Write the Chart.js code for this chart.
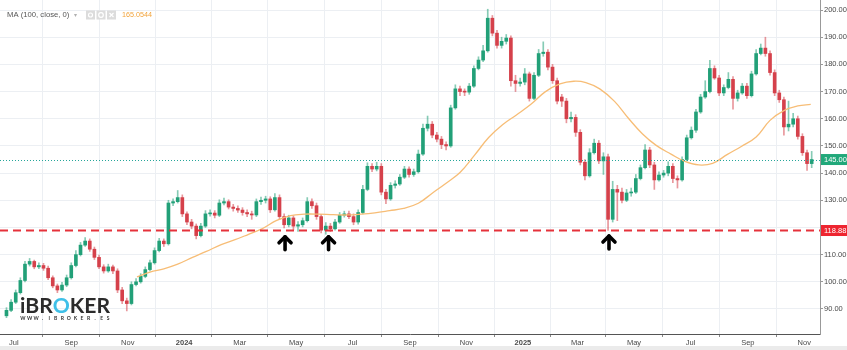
<!DOCTYPE html>
<html><head><meta charset="utf-8">
<script src="https://cdn.jsdelivr.net/npm/chart.js@4"></script>
<style>html,body{margin:0;padding:0;background:#fff}#wrap{width:847px;height:350px;position:relative}</style>
</head><body><div id="wrap"><canvas id="c"></canvas></div>
<script>
// ---------- DATA ----------
const firstBarDate = '2023-06-23';
const barStepDays = 5;
const opens = [
87.5,89.5,92.5,96,100.5,106.5,107.5,105.5,106,105,
101.5,98.5,97,98.8,101.5,106,110,113.5,115,112,
109,105.5,104,105.5,104,97,93,92,99,100,
102,104.5,107,111.5,115,114,129,129.5,131,125,
122,120.5,117,120.5,125,125.3,124.5,129,129.5,127.5,
127,126.4,125.5,125,124.6,129.5,130,130.5,126.5,131,
124,121,123.5,120.5,121,122.5,129.5,128,124,119,
120.5,119.5,122,124.5,125,124,122,125.5,134,142.5,
141.5,142.5,133,130.5,135.5,136,138.5,141.5,139.5,140.5,
147,156.5,158,154,152.5,150.5,150,164,171,170,
169.8,172,178.5,181.6,185,197,191.5,187,188.5,189.7,
174,173,173.5,176.5,167.5,176,184,184.5,179,174,
168,166.5,160,160.5,155,144,139,147.5,151,144.5,
146,123,134,133,130,132.7,133,138,142,148.5,
143,137.5,139.3,140,142.5,138,137.5,145,153,155.8,
162.5,168,170,178.5,175,169.5,171.5,174.5,167.5,169.5,
172,168.5,176.5,184,186,184,177,169.5,167,157,
158,160,153.5,147.5,143.5];
const highs = [
90.5,93.5,97,101.5,107.5,108.6,108,107,106.8,105.8,
102.2,99.2,99.8,102.5,107,111.5,114.5,116.3,115.8,112.8,
109.8,106.3,106.5,106.2,104.8,98,94,100,101.2,103,
105.5,108,112.5,116,115.8,130,130.5,133.6,132,125.8,
123,121.3,121.5,126.2,126.5,126.2,130.2,130.8,130.2,128.5,
128,127.3,126.5,126,130.5,131.2,131.5,131.3,132.5,132,
125,124.5,124.3,122.2,123.5,131,130.5,129,124.8,121.8,
121.5,123,125.5,126,126,125,126.5,135.5,143.8,143.5,
144,143.5,134,136.5,137.2,139.5,142.5,142.3,141.5,148.5,
158,161,159,155,153.5,151.5,165,172.5,172,171,
173,179.5,182.8,187,200.3,198,192.5,190,191,190.5,
176,175,178.5,177.2,177,185.5,188.3,185.5,180,175,
169,167.5,162.5,161.5,156,145,149,152.5,152,147.5,
147,137,135.5,134.5,134,134.5,139.5,143,150.5,149.5,
144,140.5,141,144.2,143.5,139,146,154,157,163.5,
169,174,181.5,179.5,176,172.5,177,175.5,170.5,173,
173,177.5,185.5,187.5,190,185,178,170.5,168,166.5,
162,161,154.5,148.5,148];
const lows = [
86.8,89,92,95.5,100,105.8,104.8,104.8,104.2,100.8,
97.8,96,96.5,98.2,101,105.5,109.5,113,111.2,108.2,
104.8,103.2,103.5,103,96,92,89.3,91.5,98.5,99.5,
101.5,104,106.5,111,113,113.5,128,129,124,121,
119.5,115.8,116.5,120,124.2,123.5,124,128.3,126.8,126,
125.5,124.5,124,123,124,128.5,129,125.5,126,123,
119.8,120.2,119.2,118.5,120.2,122,127,123,118,117.5,
118.5,119,121.5,123.8,123.2,121,121.2,125,133.5,140.5,
140.8,132,128.8,130,134.5,135.5,138,138.5,138.8,140,
146.5,155.5,153,151.5,149,148.5,149.5,163.5,168.5,168.5,
169,171.5,178,181,184.5,190.5,186,186,187.5,172,
170,172,172.5,166.5,167,175.5,183,178,173,165.5,
164.5,158.5,158.8,153.5,143,137.5,138.5,147,143.5,139.5,
118.9,122,122.5,129,129.5,131.5,132.5,137.5,141.5,142,
134,137,138.5,139,136.5,134.5,137,144.5,152.5,155,
162,167.5,169.5,174.5,168.5,168.5,171,163.5,166.5,169,
167.5,168,176,183.5,183,176,168.5,166,154,155.5,
157,152.5,146.5,141,142];
const closes = [
89.5,92.5,96,100.5,106.5,107.5,105.5,106,105,101.5,
98.5,97,98.8,101.5,106,110,113.5,115,112,109,
105.5,104,105.5,104,97,93,92,99,100,102,
104.5,107,111.5,115,114,129,129.5,131,125,122,
120.5,117,120.5,125,125.3,124.5,129,129.5,127.5,127,
126.4,125.5,125,124.6,129.5,130,130.5,126.5,131,124,
121,123.5,120.5,121,122.5,129.5,128,124,119,120.5,
119.5,122,124.5,125,124,122,125.5,134,142.5,141.5,
142.5,133,130.5,135.5,136,138.5,141.5,139.5,140.5,147,
156.5,158,154,152.5,150.5,150,164,171,170,169.8,
172,178.5,181.6,185,197,191.5,187,188.5,189.7,174,
173,173.5,176.5,167.5,176,184,184.5,179,174,166.5,
166.5,160,160.5,155,144,139,147.5,151,144.5,146,
123,134,133,130,132.7,133,138,142,148.5,143,
137.5,139.3,140,142.5,138,137.5,145,153,155.8,162.5,
168,170,178.5,175,169.5,171.5,174.5,167.5,169.5,172,
168.5,176.5,184,186,184,177,169.5,167,157,158,
160,153.5,147.5,143.5,145];

const maDates = ['2023-11-11','2023-11-25','2023-12-10','2023-12-25','2024-01-10','2024-01-25','2024-02-10','2024-02-25',
'2024-03-10','2024-03-25','2024-04-10','2024-04-25','2024-05-10','2024-05-25','2024-06-10','2024-06-25',
'2024-07-10','2024-07-25','2024-08-10','2024-08-25','2024-09-10','2024-09-25','2024-10-10','2024-10-25',
'2024-11-10','2024-11-25','2024-12-10','2024-12-25','2025-01-10','2025-01-25','2025-02-10','2025-02-25',
'2025-03-10','2025-03-25','2025-04-10','2025-04-25','2025-05-10','2025-05-25','2025-06-10','2025-06-25',
'2025-07-10','2025-07-25','2025-08-10','2025-08-25','2025-09-10','2025-09-25','2025-10-10','2025-10-25','2025-11-08'];
const maValues = [101.8,103.6,104.8,106.5,109.0,111.2,113.7,115.5,
117.4,119.5,122.6,124.4,124.9,124.9,124.7,124.6,
124.9,125.4,126.2,127.0,128.9,132.6,136.3,140.2,
146.7,153.1,157.8,161.4,165.4,169.9,172.8,173.8,
173.3,171.0,166.4,160.2,154.5,150.2,147.0,144.3,
143.0,143.6,146.9,149.8,153.3,159.4,163.0,164.7,165.3];

const tickDates = ['2023-07-01','2023-09-01','2023-11-01','2024-01-01','2024-03-01','2024-05-01','2024-07-01','2024-09-01',
'2024-11-01','2025-01-01','2025-03-01','2025-05-01','2025-07-01','2025-09-01','2025-11-01'];
const tickLabels = ['Jul','Sep','Nov','2024','Mar','May','Jul','Sep','Nov','2025','Mar','May','Jul','Sep','Nov'];
const priceTicks = [90,100,110,120,130,140,150,160,170,180,190,200];
const lastPrice = 145.00;
const supportLevel = 118.88;
const maLegendTitle = 'MA (100, close, 0)';
const maLegendValue = '165.0544';
const arrowDates = ['2024-04-19','2024-06-05','2025-04-04'];
const arrowValues = [117.3,117.3,117.6];

// ---------- BUILD ----------
function dayOf(s){const p=s.split('-').map(Number);return (Date.UTC(p[0],p[1]-1,p[2])-Date.UTC(2023,6,1))/864e5;}
const x0 = dayOf(firstBarDate);
const barX = closes.map((_,i)=>x0+barStepDays*i);
const UP='#22a078', DOWN='#d5414b', UPW='rgba(34,160,120,0.55)', DOWNW='rgba(213,65,75,0.55)';
const isUp = closes.map((c,i)=>c>=opens[i]);
const bodyData = closes.map((c,i)=>({x:barX[i],y:[opens[i],c]}));
const wickData = closes.map((c,i)=>({x:barX[i],y:[lows[i],highs[i]]}));
const maData = maDates.map((d,i)=>({x:dayOf(d),y:maValues[i]}));

const FONT='"Liberation Sans", Arial, sans-serif';

const decor = {
  id:'decor',
  beforeDraw(chart){
    const c=chart.ctx;
    c.save();c.fillStyle='#fff';c.fillRect(0,0,chart.width,chart.height);
    c.fillStyle='#ebebeb';c.fillRect(0,346,chart.width,4);
    c.restore();
  },
  afterDatasetsDraw(chart){
    const c=chart.ctx, a=chart.chartArea, ys=chart.scales.y, xs=chart.scales.x;
    c.save();
    // last price dotted line
    let y=Math.round(ys.getPixelForValue(lastPrice))+0.5;
    c.strokeStyle='#26a69a';c.lineWidth=1;c.setLineDash([1,2]);
    c.beginPath();c.moveTo(a.left,y);c.lineTo(a.right,y);c.stroke();
    // support dashed line
    y=ys.getPixelForValue(supportLevel);
    c.strokeStyle='#e5323b';c.lineWidth=2;c.setLineDash([8,5]);
    c.beginPath();c.moveTo(a.left,y);c.lineTo(a.right,y);c.stroke();
    c.setLineDash([]);
    // arrows
    c.strokeStyle='#000';c.lineWidth=3.6;c.lineCap='round';c.lineJoin='round';
    arrowDates.forEach((d,i)=>{
      const px=xs.getPixelForValue(dayOf(d)), py=ys.getPixelForValue(arrowValues[i]);
      c.beginPath();c.moveTo(px,py+2);c.lineTo(px,py+15);c.stroke();
      c.beginPath();c.moveTo(px-6,py+8);c.lineTo(px,py+2);c.lineTo(px+6,py+8);c.stroke();
    });
    // logo
    c.font='bold 21px Lato, "Open Sans", sans-serif';
    const parts=[['iBR','#2b2b2b'],['O','#3fc0e8'],['KER','#2b2b2b']];
    const tw=parts.reduce((s,p)=>s+c.measureText(p[0]).width,0);
    c.save();c.translate(20,313);c.scale(90/tw,1);
    let lx=0;c.textBaseline='alphabetic';
    parts.forEach(p=>{c.fillStyle=p[1];c.fillText(p[0],lx,0);lx+=c.measureText(p[0]).width;});
    c.restore();
    const sub='WWW.IBROKER.ES';
    c.font='bold 5px Lato, sans-serif';c.fillStyle='#333';c.textAlign='center';
    for(let i=0;i<sub.length;i++){c.fillText(sub[i],23+i*6.55,320);}
    c.textAlign='left';
    // legend
    c.textBaseline='middle';
    c.font='7.7px '+FONT;c.fillStyle='#555';c.fillText(maLegendTitle,7,15);
    c.fillStyle='#b0b0b0';c.font='6px '+FONT;c.fillText('\u25BE',74,15);
    [86,96.5,107].forEach((bx,k)=>{
      c.fillStyle='#dcdcdc';c.fillRect(bx,10.5,9,9);
      c.strokeStyle='#fff';c.lineWidth=1.2;c.lineCap='butt';
      c.beginPath();
      if(k===0){c.arc(bx+4.5,15,2,0,Math.PI*2);}
      else if(k===1){c.arc(bx+4.5,15,2.3,0,Math.PI*2);}
      else {c.moveTo(bx+2.5,13);c.lineTo(bx+6.5,17);c.moveTo(bx+6.5,13);c.lineTo(bx+2.5,17);}
      c.stroke();
    });
    c.fillStyle='#f2a33a';c.font='7.2px '+FONT;c.fillText(maLegendValue,122,15);
    c.restore();
  },
  afterDraw(chart){
    const c=chart.ctx, a=chart.chartArea, ys=chart.scales.y;
    c.save();
    [[lastPrice,'#21a87a'],[supportLevel,'#ee2530']].forEach(([v,col])=>{
      const y=ys.getPixelForValue(v);
      c.fillStyle=col;c.fillRect(a.right+1,y-5.5,26,11);
      c.fillStyle='#fff';c.font='7.5px '+FONT;c.textBaseline='middle';c.textAlign='left';
      c.fillText(v.toFixed(2),a.right+4,y+0.5);
    });
    c.restore();
  }
};

new Chart(document.getElementById('c'),{
  type:'bar',
  data:{datasets:[
    {type:'line',data:maData,borderColor:'#f7bd76',borderWidth:1.3,pointRadius:0,tension:0.4,order:1},
    {type:'bar',data:bodyData,backgroundColor:isUp.map(u=>u?UP:DOWN),barThickness:3,grouped:false,minBarLength:1,order:2},
    {type:'bar',data:wickData,backgroundColor:isUp.map(u=>u?UPW:DOWNW),barThickness:1,grouped:false,order:3}
  ]},
  options:{
    responsive:true,maintainAspectRatio:false,animation:false,
    layout:{padding:0},
    plugins:{legend:{display:false},tooltip:{enabled:false}},
    scales:{
      x:{type:'linear',min:dayOf('2023-06-16'),max:dayOf('2025-11-18'),offset:false,
        afterBuildTicks:ax=>{ax.ticks=tickDates.map(d=>({value:dayOf(d)}));},
        ticks:{autoSkip:false,maxRotation:0,padding:1,color:'#4a4a4a',
          callback:(v,i)=>tickLabels[i],
          font:ctx=>({size:7.5,family:FONT,weight:/^\d{4}$/.test(tickLabels[ctx.index]||'')?'bold':'normal'})},
        grid:{color:'#eceff3',tickColor:'#888',tickLength:3},
        border:{color:'#555',width:1},
        afterFit:ax=>{ax.height=16;ax.paddingLeft=0;ax.paddingRight=0;}
      },
      y:{type:'linear',position:'right',min:80.8,max:203.7,
        afterBuildTicks:ax=>{ax.ticks=priceTicks.map(v=>({value:v}));},
        ticks:{padding:1,color:'#4a4a4a',font:{size:7.5,family:FONT},callback:v=>Number(v).toFixed(2)},
        grid:{color:'#eceff3',tickColor:'#999',tickLength:3},
        border:{color:'#999',width:1},
        afterFit:ax=>{ax.width=27;ax.paddingTop=0;ax.paddingBottom=0;}
      }
    }
  },
  plugins:[decor]
});
</script></body></html>
